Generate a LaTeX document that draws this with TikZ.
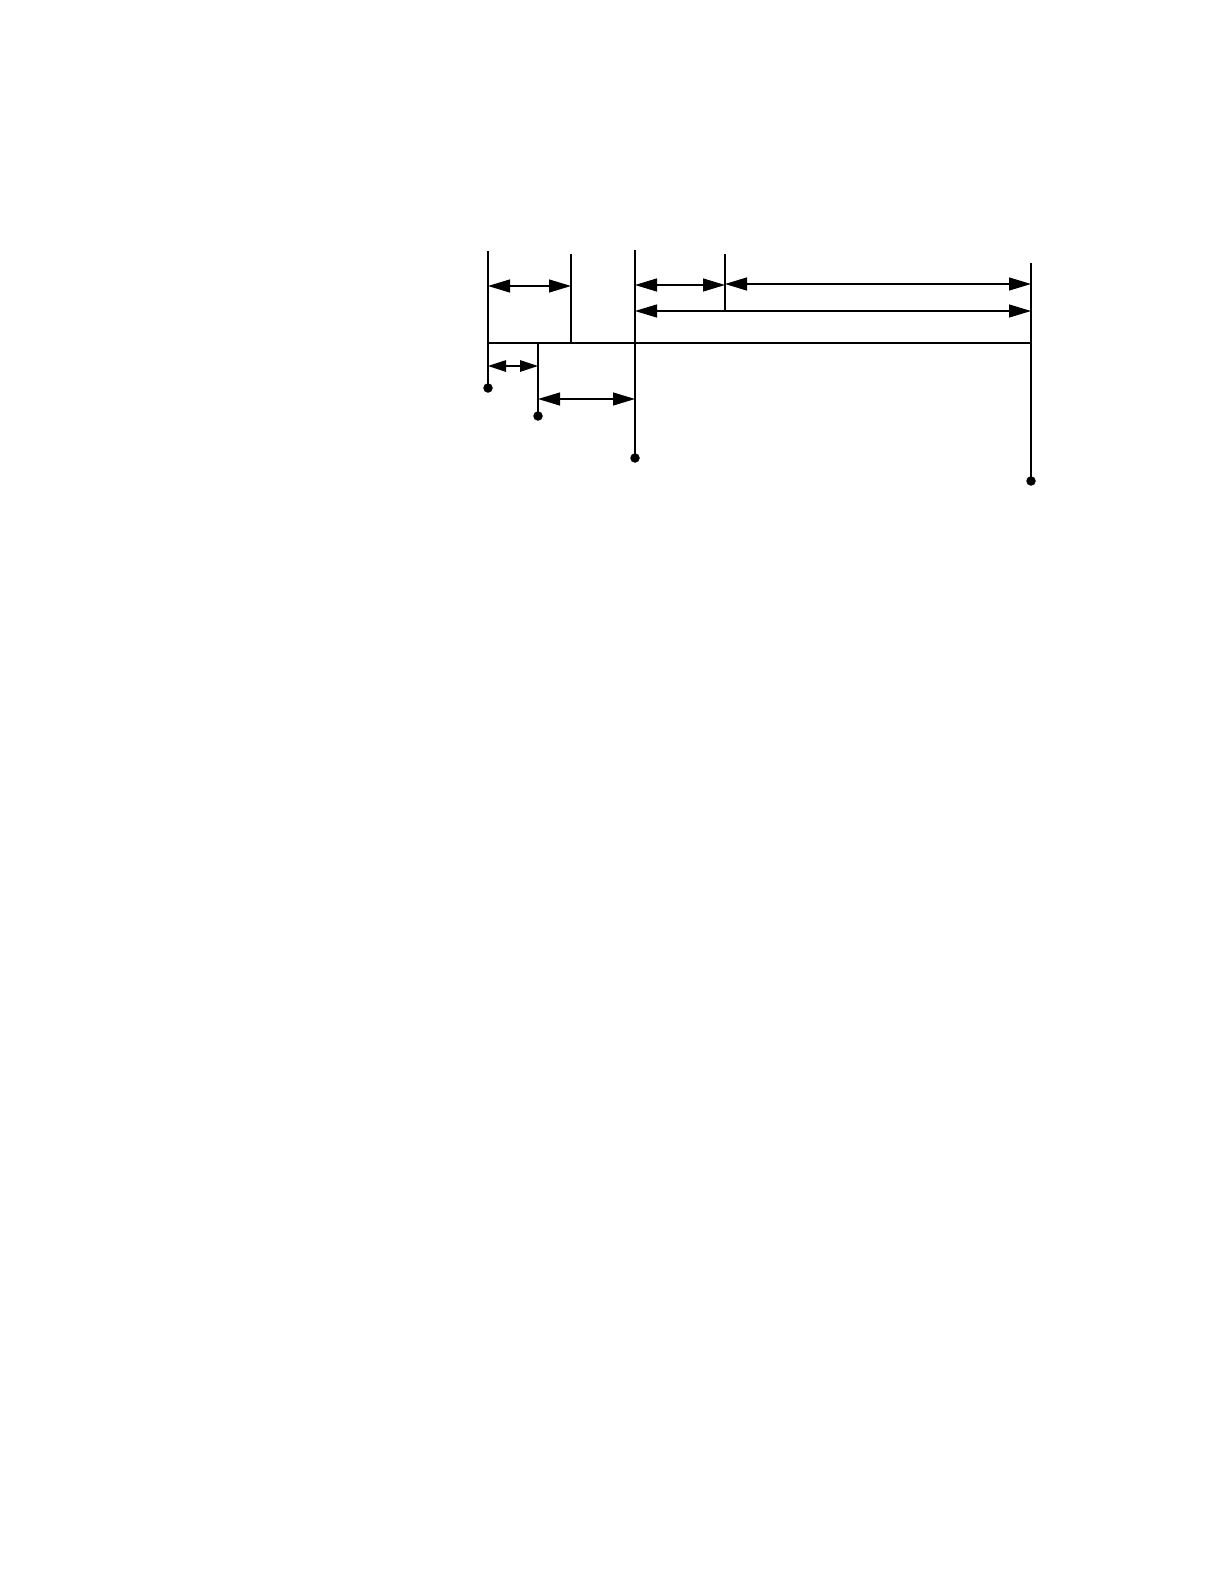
\documentclass[tikz,border=0pt]{standalone}
\usetikzlibrary{arrows.meta}
\begin{document}
\begin{tikzpicture}[x=1pt,y=-1pt,
  wire/.style={line width=1.4pt},
  dim/.style={line width=1.2pt,{Triangle[length=22pt,width=13pt]}-{Triangle[length=22pt,width=13pt]}},
  dimsmall/.style={line width=1.2pt,{Triangle[length=18pt,width=11.5pt]}-{Triangle[length=18pt,width=11.5pt]}},
  dot/.style={circle,fill=black,inner sep=0pt,minimum size=9.5pt}]
\useasboundingbox (0,0) rectangle (1224,1584);
% vertical lines: top coordinates
\coordinate (t1) at (488,251);
\coordinate (t2) at (571,254);
\coordinate (t3) at (635,250);
\coordinate (t5) at (725,254);
\coordinate (t6) at (1031,263);
% baseline points
\coordinate (b1) at (488,343);
\coordinate (b2) at (571,343);
\coordinate (b4) at (538,343);
\coordinate (b6) at (1031,343);
\coordinate (e5) at (725,312);
% dots
\node[dot] (d1) at (488,388) {};
\node[dot] (d4) at (538,416) {};
\node[dot] (d3) at (635,458) {};
\node[dot] (d6) at (1031,481) {};
% lines
\draw[wire] (t1) -- (d1.center);
\draw[wire] (t2) -- (b2);
\draw[wire] (t3) -- (d3.center);
\draw[wire] (b4) -- (d4.center);
\draw[wire] (t5) -- (e5);
\draw[wire] (t6) -- (d6.center);
\draw[wire] (b1) -- (b6);
% dimension arrows
\coordinate (a1l) at (488,286); \coordinate (a1r) at (571,286);
\coordinate (a2l) at (635,285); \coordinate (a2r) at (725,285);
\coordinate (a3l) at (725,284); \coordinate (a3r) at (1031,284);
\coordinate (a4l) at (635,311); \coordinate (a4r) at (1031,311);
\coordinate (a5l) at (488,366); \coordinate (a5r) at (538,366);
\coordinate (a6l) at (538,399); \coordinate (a6r) at (635,399);
\draw[dim] (a1l) -- (a1r);
\draw[dim] (a2l) -- (a2r);
\draw[dim] (a3l) -- (a3r);
\draw[dim] (a4l) -- (a4r);
\draw[dimsmall] (a5l) -- (a5r);
\draw[dim] (a6l) -- (a6r);
\end{tikzpicture}
\end{document}
